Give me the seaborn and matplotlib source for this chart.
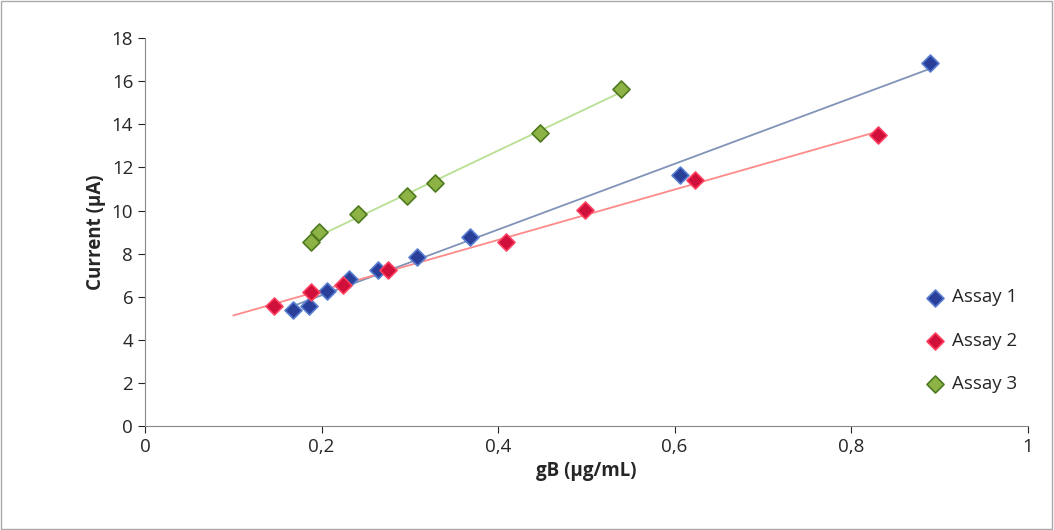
import matplotlib
matplotlib.use("Agg")
import matplotlib.pyplot as plt
import numpy as np
import pandas as pd
import seaborn as sns

sns.set_style("white")
plt.rcParams["font.family"] = ["Open Sans", "DejaVu Sans"]

# данные
assay1_x = [0.168, 0.186, 0.206, 0.231, 0.264, 0.308, 0.368, 0.606, 0.889]
assay1_y = [5.38, 5.57, 6.26, 6.82, 7.24, 7.84, 8.77, 11.64, 16.84]
assay2_x = [0.146, 0.188, 0.224, 0.275, 0.409, 0.498, 0.623, 0.830]
assay2_y = [5.57, 6.22, 6.54, 7.24, 8.53, 10.02, 11.41, 13.50]
assay3_x = [0.188, 0.197, 0.241, 0.297, 0.328, 0.448, 0.539]
assay3_y = [8.53, 9.00, 9.83, 10.67, 11.27, 13.59, 15.63]

series = [
    ("Assay 1", assay1_x, assay1_y, "#2a3f9a", "#5a7fd0", "#8093b8", None),
    ("Assay 2", assay2_x, assay2_y, "#d0103a", "#ff4060", "#ff8a8a", 0.1),
    ("Assay 3", assay3_x, assay3_y, "#8db346", "#4e7a1e", "#b8df92", None),
]

fig = plt.figure(figsize=(10.54, 5.30), dpi=100)
fig.patches.append(plt.Rectangle((0.001, 0.001), 0.997, 0.997, transform=fig.transFigure,
                                 fill=False, edgecolor="#aaaaaa", linewidth=1))
ax = fig.add_axes([0.1376, 0.196, 0.8374, 0.732])

for name, xs, ys, fc, ec, lc, x0 in series:
    k, b = np.polyfit(xs, ys, 1)
    lx = np.array([x0 if x0 is not None else min(xs), max(xs)])
    ax.plot(lx, k * lx + b, color=lc, linewidth=1.3, zorder=1)
    df = pd.DataFrame({"x": xs, "y": ys})
    sns.scatterplot(data=df, x="x", y="y", ax=ax, marker="D", s=75, color=fc,
                    edgecolor=ec, linewidth=1.2, label=name, zorder=3)

ax.set_xlim(0, 1)
ax.set_ylim(0, 18)
ax.set_xticks(np.arange(0, 1.01, 0.2))
ax.set_xticklabels(["0", "0,2", "0,4", "0,6", "0,8", "1"])
ax.set_yticks(range(0, 19, 2))
ax.tick_params(labelsize=13.5, length=5, direction="out", bottom=True, left=True)
for s in ["top", "right"]:
    ax.spines[s].set_visible(False)
for s in ["left", "bottom"]:
    ax.spines[s].set_color("#888888")
ax.set_xlabel("gB (µg/mL)", fontsize=13.5, fontweight="bold")
ax.set_ylabel("Current (µA)", fontsize=13.5, fontweight="bold")
ax.legend(loc="center left", bbox_to_anchor=(0.855, 0.22), frameon=False,
          fontsize=13.5, handletextpad=-0.1, labelspacing=1.35)

fig.savefig("out.png", dpi=100)
